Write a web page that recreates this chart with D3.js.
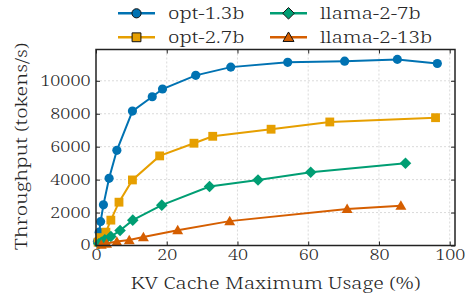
<!DOCTYPE html>
<html>
<head>
<meta charset="utf-8">
<script src="https://cdn.jsdelivr.net/npm/d3@7"></script>
<style>
  body { margin: 0; background: #fff; }
  svg text { font-family: "Noto Serif", "Liberation Serif", serif; font-weight: 300; fill: #262626; }
  .grid line { stroke: #d0d0d0; stroke-dasharray: 2,2; stroke-width: 0.8; }
  .eje path, .eje line { stroke: #222; }
</style>
</head>
<body>
<div id="chart"></div>
<script>
// datos
const series = ["opt-1.3b", "opt-2.7b", "llama-2-7b", "llama-2-13b"];
const colores = ["#0072B2", "#E69F00", "#009E73", "#D55E00"];
const simbolos = ["circle", "square", "diamond", "triangle"];

const opt13x = [0.4, 0.9, 1.3, 2.1, 3.7, 5.9, 10.3, 15.9, 18.8, 28.2, 38.1, 54.2, 70.3, 85.2, 96.5];
const opt13y = [250, 810, 1450, 2470, 4080, 5780, 8160, 9030, 9500, 10330, 10830, 11120, 11190, 11300, 11050];
const opt27x = [0.6, 1.1, 2.8, 4.2, 6.5, 10.3, 18.0, 27.7, 33.0, 49.5, 66.1, 96.0];
const opt27y = [200, 480, 810, 1540, 2630, 3980, 5440, 6210, 6630, 7060, 7500, 7760];
const l7x = [0.8, 1.5, 2.5, 4.2, 6.8, 10.4, 18.6, 32.1, 45.8, 60.7, 87.5];
const l7y = [100, 200, 345, 545, 910, 1540, 2450, 3580, 3980, 4450, 4990];
const l13x = [1.5, 3.0, 5.9, 9.4, 13.4, 23.1, 37.8, 71.0, 86.2];
const l13y = [60, 120, 240, 330, 510, 930, 1480, 2220, 2420];

const xTicks = [0, 20, 40, 60, 80, 100];
const yTicks = [0, 2000, 4000, 6000, 8000, 10000];

const datos = [
  d3.zip(opt13x, opt13y),
  d3.zip(opt27x, opt27y),
  d3.zip(l7x, l7y),
  d3.zip(l13x, l13y)
];

const w = 469, h = 296;
const margin = ({ top: 49.5, right: 14, bottom: 50.5, left: 96 });

const svg = d3.select("#chart")
  .append("svg")
  .attr("width", w)
  .attr("height", h);

const xScale = d3.scaleLinear()
  .domain([0, 101.5])
  .range([margin.left, w - margin.right]);

const yScale = d3.scaleLinear()
  .domain([0, 11900])
  .range([h - margin.bottom, margin.top]);

// rejilla
svg.append("g").attr("class", "grid")
  .selectAll("line").data(xTicks.slice(1)).enter().append("line")
  .attr("x1", d => xScale(d)).attr("x2", d => xScale(d))
  .attr("y1", margin.top).attr("y2", h - margin.bottom);
svg.append("g").attr("class", "grid")
  .selectAll("line").data(yTicks.slice(1)).enter().append("line")
  .attr("y1", d => yScale(d)).attr("y2", d => yScale(d))
  .attr("x1", margin.left).attr("x2", w - margin.right);

// ejes con ticks hacia dentro
svg.append("g")
  .attr("class", "eje")
  .attr("transform", `translate(0,${h - margin.bottom})`)
  .call(d3.axisBottom(xScale).tickValues(xTicks).tickSizeInner(-4).tickSizeOuter(0).tickPadding(4.5))
  .call(g => g.select(".domain").remove())
  .selectAll("text").attr("class", "ajuste").style("font-size", "14px");

svg.append("g")
  .attr("class", "eje")
  .attr("transform", `translate(${margin.left},0)`)
  .call(d3.axisLeft(yScale).tickValues(yTicks).tickFormat(d3.format("d")).tickSizeInner(-4).tickSizeOuter(0).tickPadding(5.5))
  .call(g => g.select(".domain").remove())
  .selectAll("text").attr("class", "ajuste").style("font-size", "14px");

svg.append("g")
  .attr("class", "eje")
  .attr("transform", `translate(0,${margin.top})`)
  .call(d3.axisTop(xScale).tickValues(xTicks).tickSizeInner(-4).tickSizeOuter(0).tickFormat(""))
  .call(g => g.select(".domain").remove());

svg.append("g")
  .attr("class", "eje")
  .attr("transform", `translate(${w - margin.right},0)`)
  .call(d3.axisRight(yScale).tickValues(yTicks).tickSizeInner(-4).tickSizeOuter(0).tickFormat(""))
  .call(g => g.select(".domain").remove());

// lineas y marcadores
const linea = d3.line().x(d => xScale(d[0])).y(d => yScale(d[1]));
const tipoSimbolo = {
  circle: d3.symbol().type(d3.symbolCircle).size(66),
  square: d3.symbol().type(d3.symbolSquare).size(78),
  triangle: d3.symbol().type(d3.symbolTriangle).size(52)
};
function pathSimbolo(tipo) {
  if (tipo === "diamond") return "M0,-5.8L5.8,0L0,5.8L-5.8,0Z";
  return tipoSimbolo[tipo]();
}

const plot = svg.append("g");
datos.forEach((serie, i) => {
  plot.append("path")
    .datum(serie)
    .attr("fill", "none")
    .attr("stroke", colores[i])
    .attr("stroke-width", 2)
    .attr("d", linea);
  plot.selectAll(".m" + i)
    .data(serie)
    .enter()
    .append("path")
    .attr("class", "m" + i)
    .attr("transform", d => `translate(${xScale(d[0])},${yScale(d[1]) + (simbolos[i] === "triangle" ? 1 : 0)})`)
    .attr("d", pathSimbolo(simbolos[i]))
    .attr("fill", colores[i]);
});

// marco
svg.append("rect")
  .attr("x", margin.left).attr("y", margin.top)
  .attr("width", w - margin.right - margin.left)
  .attr("height", h - margin.bottom - margin.top)
  .attr("fill", "none")
  .attr("stroke", "#222")
  .attr("stroke-width", 1.5);

// etiquetas de ejes
const xLabel = svg.append("text")
  .attr("class", "ajuste")
  .attr("x", (margin.left + w - margin.right) / 2)
  .attr("y", 289)
  .style("text-anchor", "middle")
  .style("font-size", "16px")
  .text("KV Cache Maximum Usage (%)");

svg.append("text")
  .attr("class", "ajuste")
  .attr("transform", `translate(27,146.5) rotate(-90)`)
  .style("text-anchor", "middle")
  .style("font-size", "16px")
  .text("Throughput (tokens/s)");

// leyenda
const leyenda = svg.append("g");
const posLeyenda = [[118, 13.3], [118, 37.3], [270, 13.3], [270, 37.3]];
series.forEach((nombre, i) => {
  const [lx, ly] = posLeyenda[i];
  const g = leyenda.append("g").attr("transform", `translate(${lx},${ly})`);
  g.append("line")
    .attr("x1", 0).attr("x2", 37)
    .attr("stroke", colores[i]).attr("stroke-width", 2.5);
  g.append("path")
    .attr("transform", `translate(18.5,${simbolos[i] === "triangle" ? 1 : 0})`)
    .attr("d", pathSimbolo(simbolos[i]))
    .attr("fill", colores[i])
    .attr("stroke", "#111")
    .attr("stroke-width", 1);
  g.append("text")
    .attr("class", "ajuste")
    .attr("x", 50).attr("y", 5.7)
    .style("font-size", "16px")
    .text(nombre);
});

// la fuente del original es mas ancha: se estira el texto en horizontal
const factor = 290 / xLabel.node().getComputedTextLength();
svg.selectAll("text.ajuste").each(function () {
  const t = d3.select(this);
  const tr = t.attr("transform");
  if (tr) {
    t.attr("transform", `${tr} scale(${factor},1)`);
  } else {
    const x = +t.attr("x") || 0;
    t.attr("transform", `translate(${x},0) scale(${factor},1) translate(${-x},0)`);
  }
});
</script>
</body>
</html>
